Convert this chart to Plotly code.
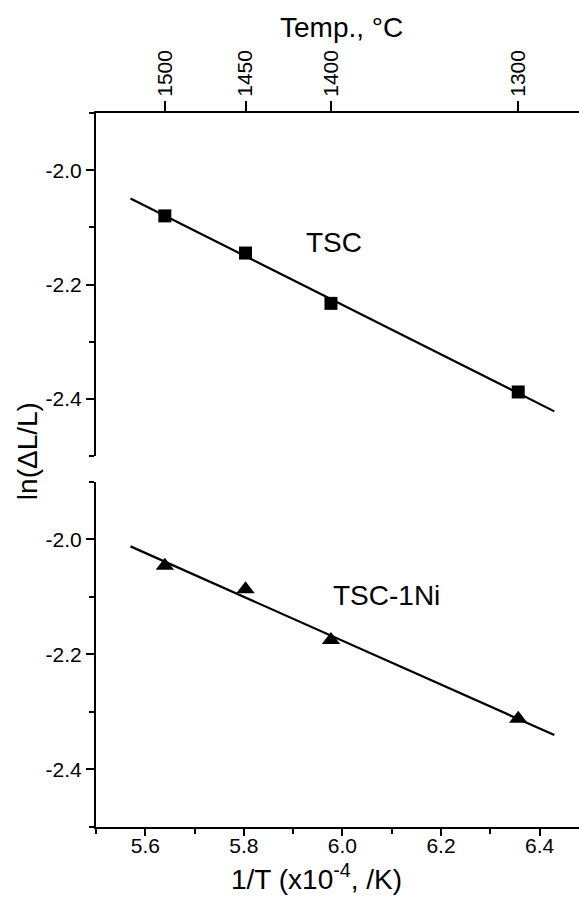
import numpy as np
import plotly.graph_objects as go

# ---- data ----
temps_c = [1500, 1450, 1400, 1300]                      # measurement temperatures (°C)
inv_T = [1e4 / (t + 273.15) for t in temps_c]           # 1/T (x10^-4 /K)
tsc_y = [-2.080, -2.145, -2.233, -2.388]                # ln(dL/L), TSC
tsc1ni_y = [-2.046, -2.087, -2.175, -2.312]             # ln(dL/L), TSC-1Ni
fit_x_ends = [5.57, 6.43]                               # extent of fitted lines

top_tick_labels = [str(t) for t in temps_c]
x_major = [5.6, 5.8, 6.0, 6.2, 6.4]
x_major_text = ["5.6", "5.8", "6.0", "6.2", "6.4"]
y_major = [-2.4, -2.2, -2.0]
y_major_text = ["-2.4", "-2.2", "-2.0"]

FONT = "Liberation Sans, Arial, sans-serif"
BLACK = "#000000"

def fit_line(xs, ys):
    k, b = np.polyfit(xs, ys, 1)
    return fit_x_ends, [k * x + b for x in fit_x_ends]

fig = go.Figure()

# top panel: TSC
lx, ly = fit_line(inv_T, tsc_y)
fig.add_trace(go.Scatter(x=lx, y=ly, mode="lines", line=dict(color=BLACK, width=2.2),
                         xaxis="x", yaxis="y", showlegend=False, hoverinfo="skip"))
fig.add_trace(go.Scatter(x=inv_T, y=tsc_y, mode="markers",
                         marker=dict(symbol="square", size=13, color=BLACK),
                         xaxis="x", yaxis="y", showlegend=False))

# bottom panel: TSC-1Ni
lx2, ly2 = fit_line(inv_T, tsc1ni_y)
fig.add_trace(go.Scatter(x=lx2, y=ly2, mode="lines", line=dict(color=BLACK, width=2.2),
                         xaxis="x", yaxis="y2", showlegend=False, hoverinfo="skip"))
fig.add_trace(go.Scatter(x=inv_T, y=tsc1ni_y, mode="markers",
                         marker=dict(symbol="triangle-up", size=16, color=BLACK),
                         xaxis="x", yaxis="y2", showlegend=False))

# invisible trace to carry the top temperature axis
fig.add_trace(go.Scatter(x=inv_T, y=tsc_y, mode="markers", marker=dict(opacity=0),
                         xaxis="x2", yaxis="y", showlegend=False, hoverinfo="skip"))

XR = [5.5, 6.48]
YR = [-2.5, -1.9]
tickfont = dict(family=FONT, size=21, color=BLACK)

fig.update_layout(
    width=579, height=897,
    margin=dict(l=96, r=0, t=113, b=70),
    paper_bgcolor="white", plot_bgcolor="white",
    font=dict(family=FONT, color=BLACK),
    xaxis=dict(range=XR, anchor="y2", showline=True, linecolor=BLACK, linewidth=2,
               showgrid=False, zeroline=False, ticks="outside", ticklen=7, tickwidth=2,
               tickcolor=BLACK, tickmode="array", tickvals=x_major, ticktext=x_major_text,
               tickfont=tickfont, ticklabelstandoff=-8,
               minor=dict(dtick=0.1, tick0=5.5, ticks="outside", ticklen=5,
                          tickwidth=2, tickcolor=BLACK, showgrid=False)),
    xaxis2=dict(range=XR, overlaying="x", side="top", anchor="y", showline=True,
                linecolor=BLACK, linewidth=2, showgrid=False, zeroline=False,
                ticks="outside", ticklen=10, tickwidth=2, tickcolor=BLACK,
                tickmode="array", tickvals=inv_T, ticktext=top_tick_labels,
                tickangle=-90, tickfont=tickfont),
    yaxis=dict(domain=[0.5196, 1.0], range=YR, anchor="x", showline=True,
               linecolor=BLACK, linewidth=2, showgrid=False, zeroline=False,
               ticks="outside", ticklen=8, tickwidth=2, tickcolor=BLACK,
               tickmode="array", tickvals=y_major, ticktext=y_major_text, tickfont=tickfont,
               minor=dict(dtick=0.1, tick0=-2.5, ticks="outside", ticklen=5,
                          tickwidth=2, tickcolor=BLACK, showgrid=False)),
    yaxis2=dict(domain=[0.0, 0.4836], range=YR, anchor="x", showline=True,
                linecolor=BLACK, linewidth=2, showgrid=False, zeroline=False,
                ticks="outside", ticklen=8, tickwidth=2, tickcolor=BLACK,
                tickmode="array", tickvals=y_major, ticktext=y_major_text, tickfont=tickfont,
                minor=dict(dtick=0.1, tick0=-2.5, ticks="outside", ticklen=5,
                           tickwidth=2, tickcolor=BLACK, showgrid=False)),
)

title_font = dict(family=FONT, size=28, color=BLACK)
fig.add_annotation(text="Temp., \u00b0C", xref="paper", yref="paper", x=0.5087, y=1.12,
                   xanchor="center", yanchor="middle", showarrow=False, font=title_font)
fig.add_annotation(text="1/T (x10<sup>-4</sup>, /K)", xref="paper", yref="paper",
                   x=0.457, y=-0.070, xanchor="center", yanchor="middle",
                   showarrow=False, font=title_font)
fig.add_annotation(text="ln(\u0394L/L)", xref="paper", yref="paper", x=-0.142, y=0.527,
                   xanchor="center", yanchor="middle", textangle=-90, showarrow=False,
                   font=title_font)
fig.add_annotation(text="TSC", xref="x", yref="y", x=5.983, y=-2.127, showarrow=False,
                   xanchor="center", yanchor="middle", font=title_font)
fig.add_annotation(text="TSC-1Ni", xref="x", yref="y2", x=6.09, y=-2.098, showarrow=False,
                   xanchor="center", yanchor="middle", font=title_font)

fig.write_html("out.html", config={"displayModeBar": False},
               post_script="document.body.style.margin='0px';")
